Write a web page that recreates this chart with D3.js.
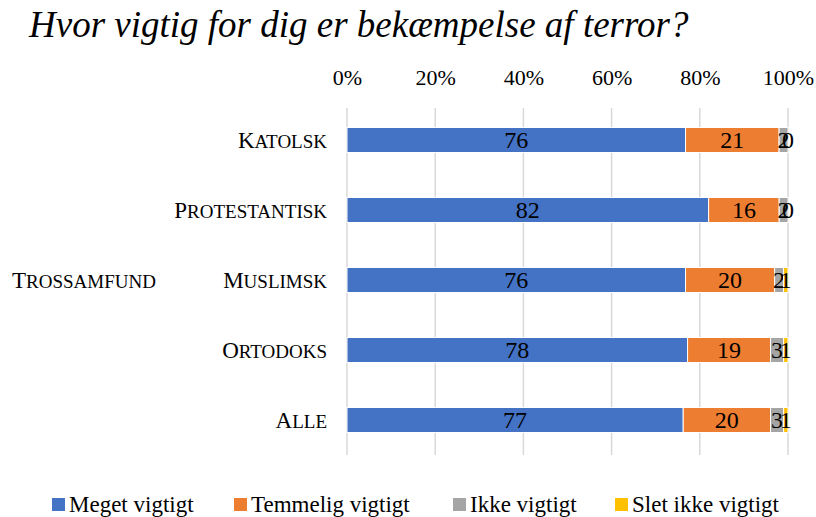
<!DOCTYPE html>
<html>
<head>
<meta charset="utf-8">
<script src="https://cdn.jsdelivr.net/npm/d3@7"></script>
<style>
  body { margin: 0; background: #fff; }
</style>
</head>
<body>
<div id="chart"></div>
<script>
// data
const categories = ["Katolsk", "Protestantisk", "Muslimsk", "Ortodoks", "Alle"];
const seriesNames = ["Meget vigtigt", "Temmelig vigtigt", "Ikke vigtigt", "Slet ikke vigtigt"];
const megetVigtigt = [76, 82, 76, 78, 77];
const temmeligVigtigt = [21, 16, 20, 19, 20];
const ikkeVigtigt = [2, 2, 2, 3, 3];
const sletIkkeVigtigt = [0, 0, 1, 1, 1];
const tickValues = [0, 0.2, 0.4, 0.6, 0.8, 1];
const groupLabel = "Trossamfund";
const title = "Hvor vigtig for dig er bekæmpelse af terror?";
const colors = ["#4472C4", "#ED7D31", "#A5A5A5", "#FFC000"];

const FONT = "'Liberation Serif', 'Times New Roman', serif";
const width = 816, height = 517;
const margin = { top: 105, right: 28, bottom: 62, left: 347 };

const rows = categories.map((c, i) => ({
  cat: c,
  "Meget vigtigt": megetVigtigt[i],
  "Temmelig vigtigt": temmeligVigtigt[i],
  "Ikke vigtigt": ikkeVigtigt[i],
  "Slet ikke vigtigt": sletIkkeVigtigt[i]
}));

const stacked = d3.stack()
  .keys(seriesNames)
  .offset(d3.stackOffsetExpand)(rows);

const svg = d3.select("#chart").append("svg")
  .attr("width", width)
  .attr("height", height)
  .style("font-family", FONT);

const x = d3.scaleLinear()
  .domain([0, 1])
  .range([margin.left, width - margin.right]);

const y = d3.scaleBand()
  .domain(categories)
  .range([margin.top, height - margin.bottom])
  .paddingInner(0.643)
  .paddingOuter(0.3214);

// title
svg.append("text")
  .attr("x", 29)
  .attr("y", 37)
  .style("font-family", FONT)
  .style("font-size", "37px")
  .style("font-style", "italic")
  .text(title);

// gridlines
svg.append("g")
  .selectAll("line")
  .data(tickValues)
  .join("line")
  .attr("x1", d => x(d)).attr("x2", d => x(d))
  .attr("y1", 108).attr("y2", 455)
  .attr("stroke", "#d9d9d9")
  .attr("stroke-width", 1.5);

// top axis labels
const xAxis = d3.axisTop(x)
  .tickValues(tickValues)
  .tickFormat(d3.format(".0%"))
  .tickSize(0)
  .tickPadding(0);

svg.append("g")
  .attr("transform", "translate(0,85)")
  .call(xAxis)
  .call(g => g.select(".domain").remove())
  .call(g => g.selectAll("text")
    .attr("dy", 0)
    .style("font-family", FONT)
    .style("font-size", "22px")
    .attr("fill", "#000"));

// bars
const layer = svg.append("g")
  .selectAll("g")
  .data(stacked)
  .join("g")
  .attr("fill", (d, i) => colors[i]);

layer.selectAll("rect")
  .data(d => d.map(v => ({ v, key: d.key })))
  .join("rect")
  .attr("x", d => x(d.v[0]))
  .attr("y", d => y(d.v.data.cat))
  .attr("width", d => x(d.v[1]) - x(d.v[0]))
  .attr("height", y.bandwidth())
  .attr("stroke", "#fff")
  .attr("stroke-width", 1);

// data labels
layer.selectAll("text")
  .data(d => d.map(v => ({ v, key: d.key })))
  .join("text")
  .attr("x", d => (x(d.v[0]) + x(d.v[1])) / 2)
  .attr("y", d => y(d.v.data.cat) + y.bandwidth() / 2 + 8)
  .attr("text-anchor", "middle")
  .attr("fill", "#000")
  .style("font-family", FONT)
  .style("font-size", "24px")
  .text(d => d.v.data[d.key]);

// small caps drawn by hand: first letter large, the rest upper case smaller
function smallCaps(sel) {
  sel.each(function(d) {
    const t = d3.select(this);
    t.append("tspan").style("font-size", "23px").text(d.charAt(0).toUpperCase());
    t.append("tspan").style("font-size", "19px").text(d.slice(1).toUpperCase());
  });
}

// category labels
svg.append("g")
  .selectAll("text")
  .data(categories)
  .join("text")
  .attr("x", 327)
  .attr("y", d => y(d) + y.bandwidth() / 2 + 8)
  .attr("text-anchor", "end")
  .attr("fill", "#000")
  .style("font-family", FONT)
  .call(smallCaps);

svg.append("g")
  .selectAll("text")
  .data([groupLabel])
  .join("text")
  .attr("x", 12)
  .attr("y", y(categories[2]) + y.bandwidth() / 2 + 8)
  .attr("fill", "#000")
  .style("font-family", FONT)
  .call(smallCaps);

// legend
const legendX = [52, 234, 453, 615];
const legend = svg.append("g")
  .selectAll("g")
  .data(seriesNames)
  .join("g")
  .attr("transform", (d, i) => `translate(${legendX[i]},504)`);

legend.append("rect")
  .attr("x", 0).attr("y", -6)
  .attr("width", 13).attr("height", 13)
  .attr("fill", (d, i) => colors[i]);

legend.append("text")
  .attr("x", 17)
  .attr("y", 8)
  .attr("fill", "#000")
  .style("font-family", FONT)
  .style("font-size", "23px")
  .text(d => d);
</script>
</body>
</html>
